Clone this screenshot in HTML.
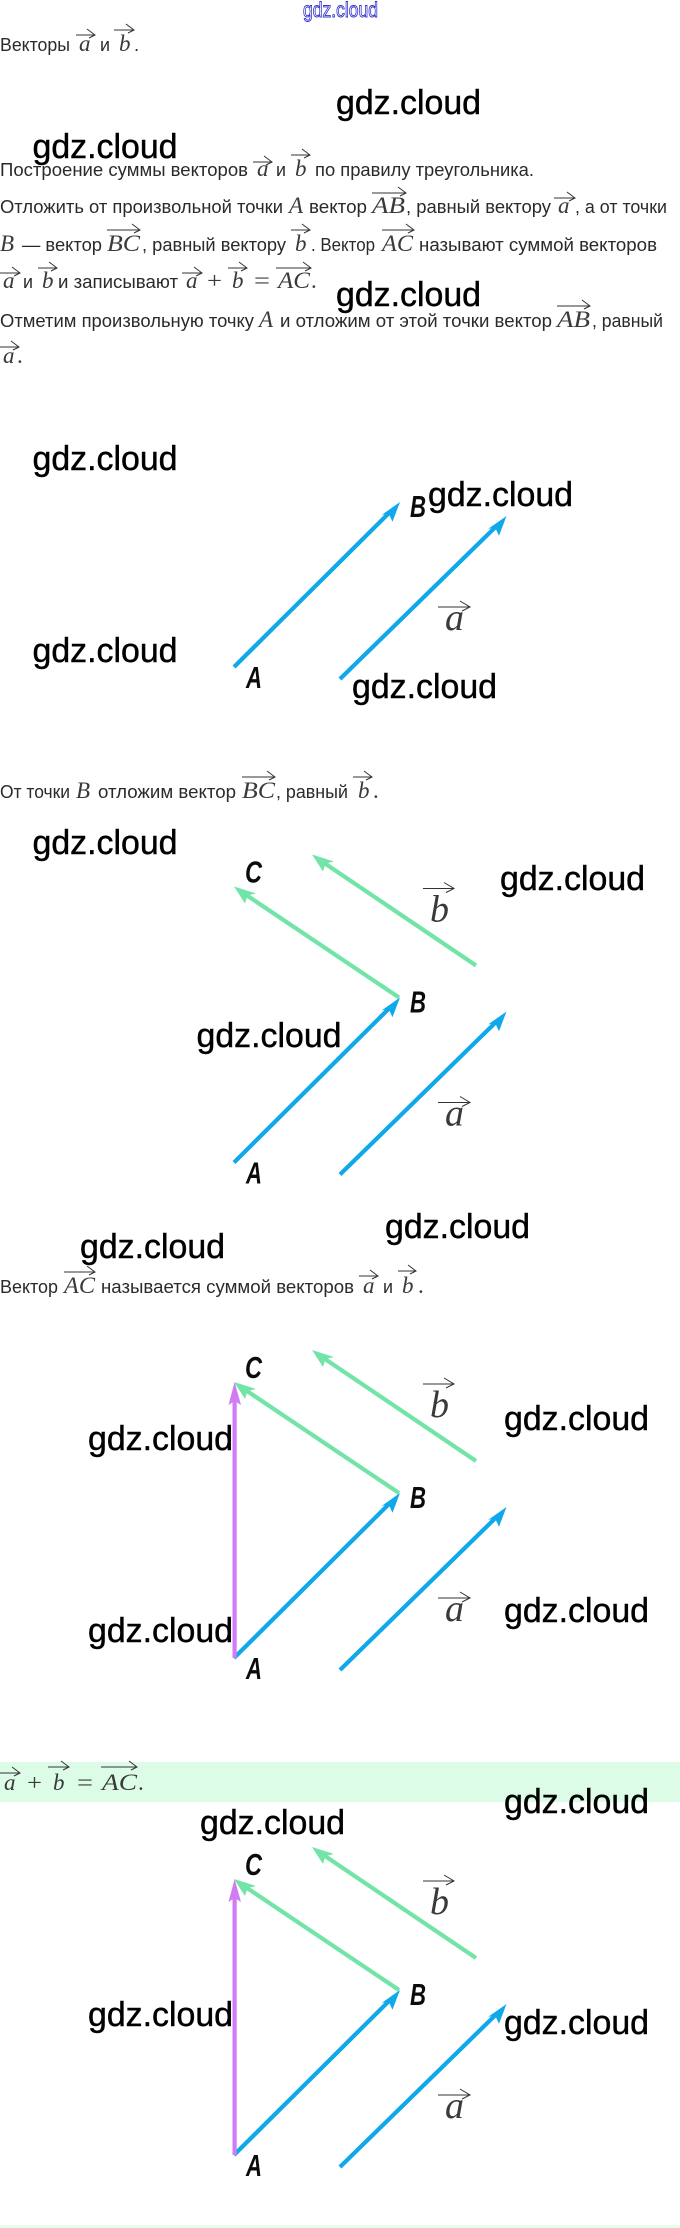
<!DOCTYPE html>
<html lang="ru">
<head>
<meta charset="utf-8">
<title>Сумма векторов</title>
<style>
html,body{margin:0;padding:0;background:#fff;width:680px;height:2228px;overflow:hidden}
svg{display:block}
.t{font-family:"Liberation Sans",sans-serif;font-size:18.5px;fill:#2a2a2a}
.m{font-family:"Liberation Serif",serif;font-style:italic;font-size:23px;fill:#3a3a3a}
.r{font-family:"Liberation Serif",serif;font-size:23px;fill:#3a3a3a}
.w{font-family:"Liberation Sans",sans-serif;font-size:34.5px;fill:#000;stroke:#000;stroke-width:.45}
.l{font-family:"Liberation Sans",sans-serif;font-weight:bold;font-style:italic;font-size:31px;fill:#0b0b0b}
.fm{font-family:"Liberation Serif",serif;font-style:italic;font-size:38px;fill:#3a3a3a}
.ar{fill:none;stroke:#333;stroke-width:1}
.bl{stroke:#0fa8ea;stroke-width:4.2;fill:none}
.blf{fill:#0fa8ea}
.gr{stroke:#72e4a8;stroke-width:4.2;fill:none}
.grf{fill:#72e4a8}
.pu{stroke:#d07cf5;stroke-width:4.2;fill:none}
.puf{fill:#d07cf5}
</style>
</head>
<body>
<svg width="680" height="2228" viewBox="0 0 680 2228" xmlns="http://www.w3.org/2000/svg">
<rect x="0" y="1762" width="680" height="40" fill="#dcfce7"/>
<rect x="0" y="2225" width="680" height="3" fill="#e6fdee"/>

<text x="303" y="17" font-family="Liberation Sans, sans-serif" font-size="21" fill="#fff" stroke="#3030cc" stroke-width=".9" textLength="75" lengthAdjust="spacingAndGlyphs">gdz.cloud</text>

<!-- inline arrows -->
<path class="ar" d="M76 35H95M87 29L95 35L89 38
M114 30H134M126 24L134 30L128 33
M253 162H272M264 156L272 162L266 165
M291 155H310M302 149L310 155L304 158
M372 193H406M398 187L406 193L400 196
M554 198H575M567 192L575 198L569 201
M107 230H140M132 224L140 230L134 233
M291 230H310M302 224L310 230L304 233
M382 230H414M406 224L414 230L408 233
M0 273H20M12 267L20 273L14 276
M38 268H57M49 262L57 268L51 271
M182 273H202M194 267L202 273L196 276
M228 268H247M239 262L247 268L241 271
M276 268H311M303 262L311 268L305 271
M557 306H590M582 300L590 306L584 309
M0 347H19M11 341L19 347L13 350
M242 777H275M267 771L275 777L269 780
M353 777H372M364 771L372 777L366 780
M64 1272H95M87 1266L95 1272L89 1275
M359 1276H378M370 1270L378 1276L372 1279
M398 1271H416M408 1265L416 1271L410 1274
M0 1773H20M12 1767L20 1773L14 1776
M48 1767H69M61 1761L69 1767L63 1770
M101 1767H137M129 1761L137 1767L131 1770"/>

<!-- text line 1 -->
<text class="t" x="0" y="51" textLength="70" lengthAdjust="spacingAndGlyphs">Векторы</text>
<text class="m" x="79" y="51">a</text>
<text class="t" x="100" y="51" textLength="10" lengthAdjust="spacingAndGlyphs">и</text>
<text class="m" x="119" y="51">b</text>
<text class="t" x="134" y="51">.</text>

<!-- line 2 -->
<text class="t" x="0" y="176" textLength="248" lengthAdjust="spacingAndGlyphs">Построение суммы векторов</text>
<text class="m" x="257" y="176">a</text>
<text class="t" x="276" y="176" textLength="10" lengthAdjust="spacingAndGlyphs">и</text>
<text class="m" x="295" y="176">b</text>
<text class="t" x="315" y="176" textLength="219" lengthAdjust="spacingAndGlyphs">по правилу треугольника.</text>

<!-- line 3 -->
<text class="t" x="0" y="213" textLength="283" lengthAdjust="spacingAndGlyphs">Отложить от произвольной точки</text>
<text class="m" x="289" y="213">A</text>
<text class="t" x="309" y="213" textLength="58" lengthAdjust="spacingAndGlyphs">вектор</text>
<text class="m" x="372" y="213" textLength="33" lengthAdjust="spacingAndGlyphs">AB</text>
<text class="t" x="406" y="213" textLength="145" lengthAdjust="spacingAndGlyphs">, равный вектору</text>
<text class="m" x="558" y="213">a</text>
<text class="t" x="575" y="213" textLength="92" lengthAdjust="spacingAndGlyphs">, а от точки</text>

<!-- line 4 -->
<text class="m" x="0" y="251">B</text>
<text class="t" x="22" y="251" textLength="80" lengthAdjust="spacingAndGlyphs">— вектор</text>
<text class="m" x="107" y="251" textLength="33" lengthAdjust="spacingAndGlyphs">BC</text>
<text class="t" x="142" y="251" textLength="144" lengthAdjust="spacingAndGlyphs">, равный вектору</text>
<text class="m" x="295" y="251">b</text>
<text class="t" x="311" y="251" textLength="64" lengthAdjust="spacingAndGlyphs">. Вектор</text>
<text class="m" x="382" y="251" textLength="31" lengthAdjust="spacingAndGlyphs">AC</text>
<text class="t" x="419" y="251" textLength="238" lengthAdjust="spacingAndGlyphs">называют суммой векторов</text>

<!-- line 5 -->
<text class="m" x="3" y="288">a</text>
<text class="t" x="23" y="288" textLength="10" lengthAdjust="spacingAndGlyphs">и</text>
<text class="m" x="42" y="288">b</text>
<text class="t" x="58" y="288" textLength="120" lengthAdjust="spacingAndGlyphs">и записывают</text>
<text class="m" x="186" y="288">a</text>
<text class="r" x="207" y="288" textLength="15" lengthAdjust="spacingAndGlyphs">+</text>
<text class="m" x="232" y="288">b</text>
<text class="r" x="254" y="288" textLength="16" lengthAdjust="spacingAndGlyphs">=</text>
<text class="m" x="278" y="288" textLength="32" lengthAdjust="spacingAndGlyphs">AC</text>
<text class="r" x="311" y="288">.</text>

<!-- line 6 -->
<text class="t" x="0" y="327" textLength="254" lengthAdjust="spacingAndGlyphs">Отметим произвольную точку</text>
<text class="m" x="259" y="327">A</text>
<text class="t" x="280" y="327" textLength="272" lengthAdjust="spacingAndGlyphs">и отложим от этой точки вектор</text>
<text class="m" x="557" y="327" textLength="33" lengthAdjust="spacingAndGlyphs">AB</text>
<text class="t" x="592" y="327" textLength="71" lengthAdjust="spacingAndGlyphs">, равный</text>

<!-- line 7 -->
<text class="m" x="3" y="363">a</text>
<text class="r" x="17" y="363">.</text>

<!-- line 8 -->
<text class="t" x="0" y="798" textLength="70" lengthAdjust="spacingAndGlyphs">От точки</text>
<text class="m" x="76" y="798">B</text>
<text class="t" x="98" y="798" textLength="138" lengthAdjust="spacingAndGlyphs">отложим вектор</text>
<text class="m" x="242" y="798" textLength="33" lengthAdjust="spacingAndGlyphs">BC</text>
<text class="t" x="276" y="798" textLength="72" lengthAdjust="spacingAndGlyphs">, равный</text>
<text class="m" x="358" y="798">b</text>
<text class="r" x="373" y="798">.</text>

<!-- line 9 -->
<text class="t" x="0" y="1293" textLength="58" lengthAdjust="spacingAndGlyphs">Вектор</text>
<text class="m" x="64" y="1293" textLength="31" lengthAdjust="spacingAndGlyphs">AC</text>
<text class="t" x="101" y="1293" textLength="253" lengthAdjust="spacingAndGlyphs">называется суммой векторов</text>
<text class="m" x="363" y="1293">a</text>
<text class="t" x="383" y="1293" textLength="10" lengthAdjust="spacingAndGlyphs">и</text>
<text class="m" x="402" y="1293">b</text>
<text class="r" x="418" y="1293">.</text>

<!-- formula band -->
<text class="m" x="4" y="1790">a</text>
<text class="r" x="27" y="1790" textLength="15" lengthAdjust="spacingAndGlyphs">+</text>
<text class="m" x="53" y="1790">b</text>
<text class="r" x="77" y="1790" textLength="16" lengthAdjust="spacingAndGlyphs">=</text>
<text class="m" x="102" y="1790" textLength="35" lengthAdjust="spacingAndGlyphs">AC</text>
<text class="r" x="138" y="1790">.</text>

<!-- Figure 1 -->
<g>
<path class="bl" d="M234 667L389 513"/><path class="blf" d="M400 502L381.6 515L388.6 513.2L392.5 521.7Z"/>
<path class="bl" d="M340 679L495.5 527"/><path class="blf" d="M506.5 516L488 529L495 527.2L499 535.7Z"/>
<text class="l" x="246" y="688" textLength="16" lengthAdjust="spacingAndGlyphs">A</text>
<text class="l" x="410" y="517" textLength="16" lengthAdjust="spacingAndGlyphs">B</text>
<text class="fm" x="445" y="630">a</text>
<path class="ar" d="M438 607H470M460 601L470 607L462 611"/>
</g>

<!-- Figure 2 -->
<g transform="translate(0,495.5)">
<path class="gr" d="M476 470L325 368"/><path class="grf" d="M312 359L323 376L325.5 368L334 366Z"/>
<path class="gr" d="M399 502L247 400"/><path class="grf" d="M234 391L245 408L247.5 400L256 398Z"/>
<path class="bl" d="M234 667L389 513"/><path class="blf" d="M400 502L381.6 515L388.6 513.2L392.5 521.7Z"/>
<path class="bl" d="M340 679L495.5 527"/><path class="blf" d="M506.5 516L488 529L495 527.2L499 535.7Z"/>
<text class="l" x="245" y="387" textLength="17" lengthAdjust="spacingAndGlyphs">C</text>
<text class="l" x="246" y="688" textLength="16" lengthAdjust="spacingAndGlyphs">A</text>
<text class="l" x="410" y="517" textLength="16" lengthAdjust="spacingAndGlyphs">B</text>
<text class="fm" x="445" y="630">a</text>
<path class="ar" d="M438 607H470M460 601L470 607L462 611"/>
<text class="fm" x="430" y="426">b</text>
<path class="ar" d="M423 393H454M444 387L454 393L446 397"/>
</g>

<!-- Figure 3 -->
<g transform="translate(0,991)">
<path class="gr" d="M476 470L325 368"/><path class="grf" d="M312 359L323 376L325.5 368L334 366Z"/>
<path class="gr" d="M399 502L247 400"/><path class="grf" d="M234 391L245 408L247.5 400L256 398Z"/>
<path class="bl" d="M234 667L389 513"/><path class="blf" d="M400 502L381.6 515L388.6 513.2L392.5 521.7Z"/>
<path class="bl" d="M340 679L495.5 527"/><path class="blf" d="M506.5 516L488 529L495 527.2L499 535.7Z"/>
<path class="pu" d="M234.6 667V408"/><path class="puf" d="M234.6 391L241 414L234.6 410L228.5 414Z"/>
<text class="l" x="245" y="387" textLength="17" lengthAdjust="spacingAndGlyphs">C</text>
<text class="l" x="246" y="688" textLength="16" lengthAdjust="spacingAndGlyphs">A</text>
<text class="l" x="410" y="517" textLength="16" lengthAdjust="spacingAndGlyphs">B</text>
<text class="fm" x="445" y="630">a</text>
<path class="ar" d="M438 607H470M460 601L470 607L462 611"/>
<text class="fm" x="430" y="426">b</text>
<path class="ar" d="M423 393H454M444 387L454 393L446 397"/>
</g>

<!-- Figure 4 -->
<g transform="translate(0,1488)">
<path class="gr" d="M476 470L325 368"/><path class="grf" d="M312 359L323 376L325.5 368L334 366Z"/>
<path class="gr" d="M399 502L247 400"/><path class="grf" d="M234 391L245 408L247.5 400L256 398Z"/>
<path class="bl" d="M234 667L389 513"/><path class="blf" d="M400 502L381.6 515L388.6 513.2L392.5 521.7Z"/>
<path class="bl" d="M340 679L495.5 527"/><path class="blf" d="M506.5 516L488 529L495 527.2L499 535.7Z"/>
<path class="pu" d="M234.6 667V408"/><path class="puf" d="M234.6 391L241 414L234.6 410L228.5 414Z"/>
<text class="l" x="245" y="387" textLength="17" lengthAdjust="spacingAndGlyphs">C</text>
<text class="l" x="246" y="688" textLength="16" lengthAdjust="spacingAndGlyphs">A</text>
<text class="l" x="410" y="517" textLength="16" lengthAdjust="spacingAndGlyphs">B</text>
<text class="fm" x="445" y="630">a</text>
<path class="ar" d="M438 607H470M460 601L470 607L462 611"/>
<text class="fm" x="430" y="426">b</text>
<path class="ar" d="M423 393H454M444 387L454 393L446 397"/>
</g>

<!-- watermarks -->
<g>
<text class="w" x="336" y="114" textLength="145" lengthAdjust="spacingAndGlyphs">gdz.cloud</text>
<text class="w" x="32.5" y="158" textLength="145" lengthAdjust="spacingAndGlyphs">gdz.cloud</text>
<text class="w" x="336" y="306" textLength="145" lengthAdjust="spacingAndGlyphs">gdz.cloud</text>
<text class="w" x="32.5" y="470" textLength="145" lengthAdjust="spacingAndGlyphs">gdz.cloud</text>
<text class="w" x="428" y="506" textLength="145" lengthAdjust="spacingAndGlyphs">gdz.cloud</text>
<text class="w" x="32.5" y="662" textLength="145" lengthAdjust="spacingAndGlyphs">gdz.cloud</text>
<text class="w" x="352" y="698" textLength="145" lengthAdjust="spacingAndGlyphs">gdz.cloud</text>
<text class="w" x="32.5" y="854" textLength="145" lengthAdjust="spacingAndGlyphs">gdz.cloud</text>
<text class="w" x="500" y="890" textLength="145" lengthAdjust="spacingAndGlyphs">gdz.cloud</text>
<text class="w" x="196.5" y="1047" textLength="145" lengthAdjust="spacingAndGlyphs">gdz.cloud</text>
<text class="w" x="385" y="1238" textLength="145" lengthAdjust="spacingAndGlyphs">gdz.cloud</text>
<text class="w" x="80" y="1258" textLength="145" lengthAdjust="spacingAndGlyphs">gdz.cloud</text>
<text class="w" x="504" y="1430" textLength="145" lengthAdjust="spacingAndGlyphs">gdz.cloud</text>
<text class="w" x="88" y="1450" textLength="145" lengthAdjust="spacingAndGlyphs">gdz.cloud</text>
<text class="w" x="504" y="1622" textLength="145" lengthAdjust="spacingAndGlyphs">gdz.cloud</text>
<text class="w" x="88" y="1642" textLength="145" lengthAdjust="spacingAndGlyphs">gdz.cloud</text>
<text class="w" x="504" y="1813" textLength="145" lengthAdjust="spacingAndGlyphs">gdz.cloud</text>
<text class="w" x="200" y="1834" textLength="145" lengthAdjust="spacingAndGlyphs">gdz.cloud</text>
<text class="w" x="88" y="2026" textLength="145" lengthAdjust="spacingAndGlyphs">gdz.cloud</text>
<text class="w" x="504" y="2034" textLength="145" lengthAdjust="spacingAndGlyphs">gdz.cloud</text>
</g>
</svg>
</body>
</html>
